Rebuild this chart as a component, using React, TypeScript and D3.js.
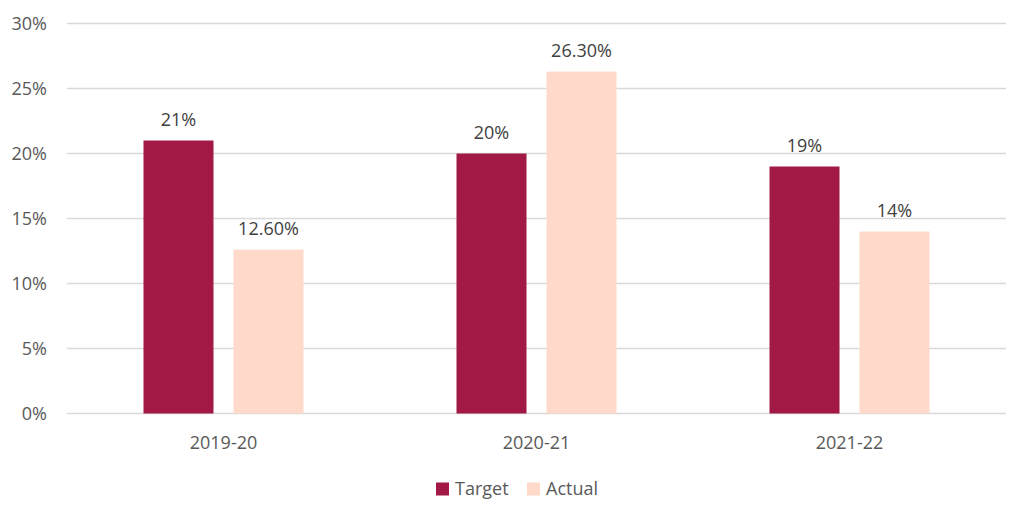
import * as d3 from 'd3';
import { useEffect, useRef } from 'react';

const years = ['2019-20', '2020-21', '2021-22'];
const seriesNames = ['Target', 'Actual'];
const targetValues = [21, 20, 19];
const actualValues = [12.6, 26.3, 14];
const targetLabels = ['21%', '20%', '19%'];
const actualLabels = ['12.60%', '26.30%', '14%'];
const yTicks = [0, 5, 10, 15, 20, 25, 30];

const colors = ['#A31945', '#FFDACB'];
const textColor = '#595959';
const font = '"Open Sans", sans-serif';

export default function App() {
  const svgRef = useRef<SVGSVGElement>(null);

  useEffect(() => {
    const width = 1024;
    const height = 510;
    const left = 67, right = 1006, top = 23.5, bottom = 413.5;

    const svg = d3.select(svgRef.current);
    svg.selectAll('*').remove();

    const x = d3.scaleBand().domain(years).range([left, right]);
    // two bars of 70px with a 20px gap
    const x1 = d3.scaleBand().domain(seriesNames).range([0, 160]).paddingInner(2 / 9);
    const y = d3.scaleLinear().domain([0, 30]).range([bottom, top]);

    // gridlines
    svg.append('g')
      .selectAll('line')
      .data(yTicks)
      .enter()
      .append('line')
      .attr('x1', left)
      .attr('x2', right)
      .attr('y1', (d) => y(d))
      .attr('y2', (d) => y(d))
      .attr('stroke', '#d9d9d9')
      .attr('stroke-width', 1.3);

    // y tick labels
    svg.append('g')
      .selectAll('text')
      .data(yTicks)
      .enter()
      .append('text')
      .attr('x', 47)
      .attr('y', (d) => y(d) + 6.5)
      .attr('text-anchor', 'end')
      .attr('font-family', font)
      .attr('font-size', 18)
      .attr('fill', textColor)
      .text((d) => d + '%');

    const series = [
      { name: 'Target', values: targetValues, labels: targetLabels },
      { name: 'Actual', values: actualValues, labels: actualLabels },
    ];

    series.forEach((s, si) => {
      const g = svg.append('g');
      const rows = years.map((yr, i) => ({ yr, v: s.values[i], label: s.labels[i] }));
      const bx = (d: any) => (x(d.yr) as number) + x.bandwidth() / 2 - 80 + (x1(s.name) as number);

      g.selectAll('rect')
        .data(rows)
        .enter()
        .append('rect')
        .attr('x', bx)
        .attr('y', (d) => y(d.v))
        .attr('width', x1.bandwidth())
        .attr('height', (d) => y(0) - y(d.v))
        .attr('fill', colors[si]);

      g.selectAll('text')
        .data(rows)
        .enter()
        .append('text')
        .attr('x', (d) => bx(d) + x1.bandwidth() / 2)
        .attr('y', (d) => y(d.v) - 14.5)
        .attr('text-anchor', 'middle')
        .attr('font-family', font)
        .attr('font-size', 18)
        .attr('fill', '#404040')
        .text((d) => d.label);
    });

    // category labels
    svg.append('g')
      .selectAll('text')
      .data(years)
      .enter()
      .append('text')
      .attr('x', (d) => (x(d) as number) + x.bandwidth() / 2)
      .attr('y', 449)
      .attr('text-anchor', 'middle')
      .attr('font-family', font)
      .attr('font-size', 18)
      .attr('fill', textColor)
      .text((d) => d);

    // legend
    const legendX = [436, 527];
    const legend = svg.append('g');
    seriesNames.forEach((name, i) => {
      legend.append('rect')
        .attr('x', legendX[i])
        .attr('y', 482.5)
        .attr('width', 13)
        .attr('height', 13)
        .attr('fill', colors[i]);
      legend.append('text')
        .attr('x', legendX[i] + 19)
        .attr('y', 495)
        .attr('font-family', font)
        .attr('font-size', 18)
        .attr('fill', textColor)
        .text(name);
    });

    svg.attr('width', width).attr('height', height);
  }, []);

  return (
    <svg
      ref={svgRef}
      width={1024}
      height={510}
      style={{ position: 'absolute', left: 0, top: 0, background: '#fff' }}
    ></svg>
  );
}
